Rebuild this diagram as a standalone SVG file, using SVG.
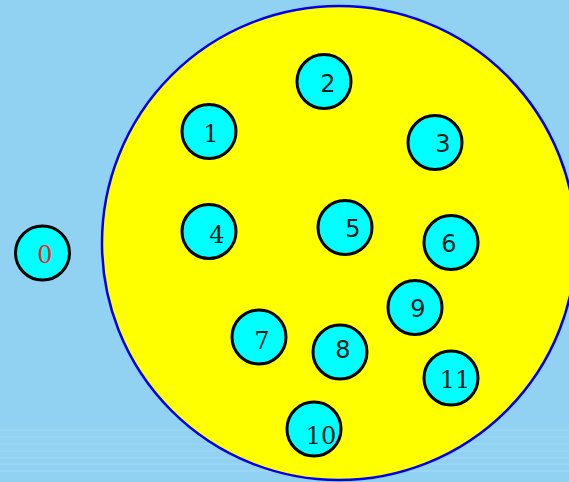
<svg xmlns="http://www.w3.org/2000/svg" width="569" height="482" viewBox="0 0 569 482">
<style>
.bg{fill:#91d2f2}
.ln{stroke:#a6d9f5;stroke-width:1}
.big{fill:#ffff00;stroke:#0000ee;stroke-width:2.5}
.n{fill:#00ffff;stroke:#000;stroke-width:3}
.s{font-family:"DejaVu Serif","Liberation Serif",serif;font-size:24px;text-anchor:middle;fill:#0a1e1e}
.ss{font-family:"DejaVu Sans","Liberation Sans",sans-serif;font-size:24px;text-anchor:middle;fill:#0a1e1e}
</style>
<rect class="bg" x="0" y="0" width="569" height="482"/>
<g id="stripes">
<line class="ln" x1="0" y1="430" x2="569" y2="430"/>
<line class="ln" x1="0" y1="437" x2="569" y2="437"/>
<line class="ln" x1="0" y1="444" x2="569" y2="444"/>
<line class="ln" x1="0" y1="451" x2="569" y2="451"/>
<line class="ln" x1="0" y1="458" x2="569" y2="458"/>
<line class="ln" x1="0" y1="464" x2="569" y2="464"/>
<line class="ln" x1="0" y1="471" x2="569" y2="471"/>
</g>
<g id="region"><circle class="big" cx="339" cy="243" r="237"/></g>
<g id="connectors"></g>
<g id="node0"><circle class="n" cx="42.5" cy="253" r="27"/><text class="s" x="45" y="263" style="fill:#ff2020">0</text></g>
<g id="node1"><circle class="n" cx="209" cy="131.5" r="27"/><text class="s" x="211" y="142">1</text></g>
<g id="node2"><circle class="n" cx="324" cy="81.5" r="27"/><text class="ss" x="328" y="92">2</text></g>
<g id="node3"><circle class="n" cx="435" cy="142.5" r="27"/><text class="ss" x="443" y="152">3</text></g>
<g id="node4"><circle class="n" cx="209" cy="231.5" r="27"/><text class="s" x="217" y="243">4</text></g>
<g id="node5"><circle class="n" cx="345" cy="227.5" r="27"/><text class="ss" x="353" y="237">5</text></g>
<g id="node6"><circle class="n" cx="451" cy="242.5" r="27"/><text class="ss" x="449" y="252">6</text></g>
<g id="node7"><circle class="n" cx="259" cy="337" r="27"/><text class="s" x="262" y="349">7</text></g>
<g id="node8"><circle class="n" cx="340" cy="352" r="27"/><text class="ss" x="343" y="358">8</text></g>
<g id="node9"><circle class="n" cx="415" cy="307.5" r="27"/><text class="ss" x="418" y="317">9</text></g>
<g id="node10"><circle class="n" cx="314" cy="429" r="27"/><text class="s" x="321" y="444">10</text></g>
<g id="node11"><circle class="n" cx="451" cy="378" r="27"/><text class="s" x="455" y="388">11</text></g>
</svg>
